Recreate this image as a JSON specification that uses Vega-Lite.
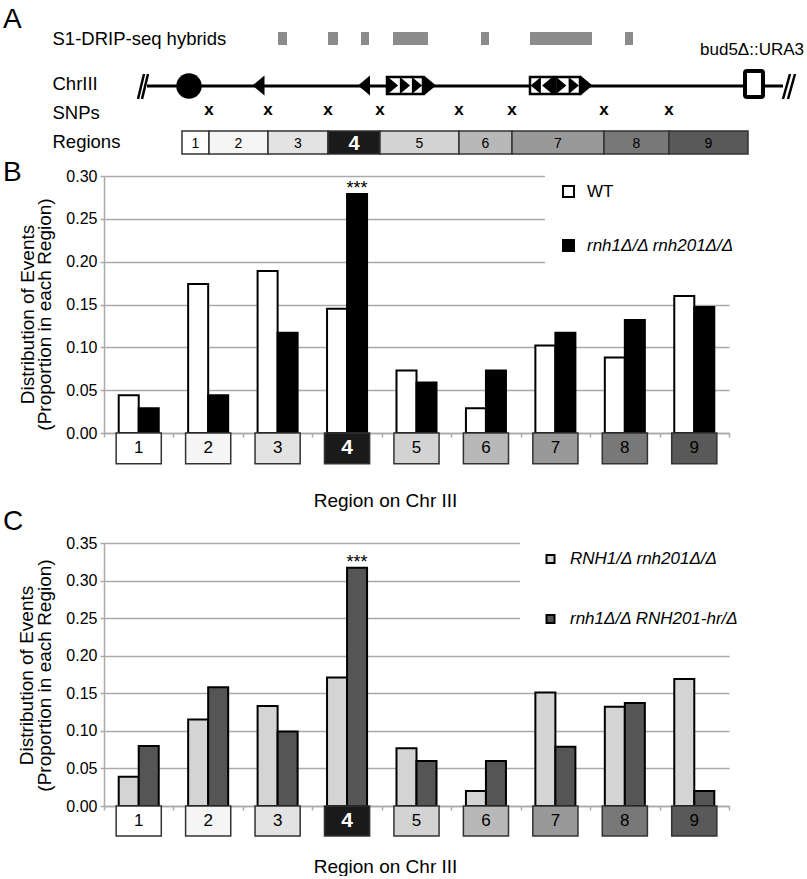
{
  "$schema": "https://vega.github.io/schema/vega-lite/v6.json",
  "background": "white",
  "padding": {"left": 3, "top": 6, "right": 0, "bottom": 0},
  "spacing": 4,
  "config": {
    "font": "Liberation Sans",
    "view": {"stroke": null},
    "title": {"font": "Liberation Sans", "fontWeight": "normal", "color": "black", "fontSize": 28},
    "axis": {"labelFont": "Liberation Sans", "titleFont": "Liberation Sans", "labelColor": "black", "titleColor": "black", "titleFontWeight": "normal"},
    "legend": {"labelFont": "Liberation Sans", "labelColor": "black"},
    "text": {"font": "Liberation Sans", "color": "black"}
  },
  "resolve": {"scale": {"color": "independent", "fill": "independent", "xOffset": "independent", "shape": "independent"}, "legend": {"color": "independent"}},
  "datasets": {
    "regions": [
      {"region": 1, "start": 15.6, "end": 21.0, "mid": 18.3},
      {"region": 2, "start": 21.0, "end": 32.8, "mid": 26.9},
      {"region": 3, "start": 32.8, "end": 44.8, "mid": 38.8},
      {"region": 4, "start": 44.8, "end": 55.2, "mid": 50.0},
      {"region": 5, "start": 55.2, "end": 71.0, "mid": 63.1},
      {"region": 6, "start": 71.0, "end": 81.6, "mid": 76.3},
      {"region": 7, "start": 81.6, "end": 100.0, "mid": 90.8},
      {"region": 8, "start": 100.0, "end": 113.0, "mid": 106.5},
      {"region": 9, "start": 113.0, "end": 128.8, "mid": 120.9}
    ],
    "snps": [{"pos": 21.0}, {"pos": 32.8}, {"pos": 44.8}, {"pos": 55.2}, {"pos": 71.0}, {"pos": 81.6}, {"pos": 100.0}, {"pos": 113.0}],
    "hybrids": [
      {"start": 34.8, "end": 36.6}, {"start": 44.8, "end": 46.8}, {"start": 51.4, "end": 53.0},
      {"start": 57.8, "end": 64.8}, {"start": 75.4, "end": 77.0}, {"start": 85.2, "end": 97.6},
      {"start": 104.2, "end": 105.8}
    ],
    "chromosome": [{"start": 8.6, "end": 135.8}],
    "breaks": [{"x1": 6.8, "x2": 8.0}, {"x1": 7.6, "x2": 8.8}, {"x1": 135.8, "x2": 137.2}, {"x1": 136.8, "x2": 138.2}],
    "centromere": [{"pos": 17.0}],
    "arrows": [{"pos": 30.9, "dir": "left"}, {"pos": 52.0, "dir": "left"}, {"pos": 65.2, "dir": "right"}, {"pos": 96.5, "dir": "right"}],
    "repeats": [{"start": 56.6, "end": 63.8}, {"start": 85.2, "end": 89.8}, {"start": 90.2, "end": 95.2}],
    "repeatArrows": [
      {"pos": 57.8, "dir": "right"}, {"pos": 60.2, "dir": "right"}, {"pos": 62.6, "dir": "right"},
      {"pos": 86.35, "dir": "left"}, {"pos": 88.65, "dir": "left"},
      {"pos": 91.45, "dir": "right"}, {"pos": 93.95, "dir": "right"}
    ],
    "marker": [{"start": 128.2, "end": 131.8}],
    "markerLabel": [{"pos": 129.6, "label": "bud5Δ::URA3"}],
    "b": [
      {"region": 1, "genotype": "WT", "value": 0.044},
      {"region": 1, "genotype": "rnh1Δ/Δ rnh201Δ/Δ", "value": 0.029},
      {"region": 2, "genotype": "WT", "value": 0.174},
      {"region": 2, "genotype": "rnh1Δ/Δ rnh201Δ/Δ", "value": 0.044},
      {"region": 3, "genotype": "WT", "value": 0.189},
      {"region": 3, "genotype": "rnh1Δ/Δ rnh201Δ/Δ", "value": 0.117},
      {"region": 4, "genotype": "WT", "value": 0.145},
      {"region": 4, "genotype": "rnh1Δ/Δ rnh201Δ/Δ", "value": 0.279, "sig": "***"},
      {"region": 5, "genotype": "WT", "value": 0.073},
      {"region": 5, "genotype": "rnh1Δ/Δ rnh201Δ/Δ", "value": 0.059},
      {"region": 6, "genotype": "WT", "value": 0.029},
      {"region": 6, "genotype": "rnh1Δ/Δ rnh201Δ/Δ", "value": 0.073},
      {"region": 7, "genotype": "WT", "value": 0.102},
      {"region": 7, "genotype": "rnh1Δ/Δ rnh201Δ/Δ", "value": 0.117},
      {"region": 8, "genotype": "WT", "value": 0.088},
      {"region": 8, "genotype": "rnh1Δ/Δ rnh201Δ/Δ", "value": 0.132},
      {"region": 9, "genotype": "WT", "value": 0.160},
      {"region": 9, "genotype": "rnh1Δ/Δ rnh201Δ/Δ", "value": 0.147}
    ],
    "c": [
      {"region": 1, "genotype": "RNH1/Δ rnh201Δ/Δ", "value": 0.039},
      {"region": 1, "genotype": "rnh1Δ/Δ RNH201-hr/Δ", "value": 0.080},
      {"region": 2, "genotype": "RNH1/Δ rnh201Δ/Δ", "value": 0.115},
      {"region": 2, "genotype": "rnh1Δ/Δ RNH201-hr/Δ", "value": 0.158},
      {"region": 3, "genotype": "RNH1/Δ rnh201Δ/Δ", "value": 0.133},
      {"region": 3, "genotype": "rnh1Δ/Δ RNH201-hr/Δ", "value": 0.099},
      {"region": 4, "genotype": "RNH1/Δ rnh201Δ/Δ", "value": 0.171},
      {"region": 4, "genotype": "rnh1Δ/Δ RNH201-hr/Δ", "value": 0.317, "sig": "***"},
      {"region": 5, "genotype": "RNH1/Δ rnh201Δ/Δ", "value": 0.077},
      {"region": 5, "genotype": "rnh1Δ/Δ RNH201-hr/Δ", "value": 0.060},
      {"region": 6, "genotype": "RNH1/Δ rnh201Δ/Δ", "value": 0.020},
      {"region": 6, "genotype": "rnh1Δ/Δ RNH201-hr/Δ", "value": 0.060},
      {"region": 7, "genotype": "RNH1/Δ rnh201Δ/Δ", "value": 0.151},
      {"region": 7, "genotype": "rnh1Δ/Δ RNH201-hr/Δ", "value": 0.079},
      {"region": 8, "genotype": "RNH1/Δ rnh201Δ/Δ", "value": 0.132},
      {"region": 8, "genotype": "rnh1Δ/Δ RNH201-hr/Δ", "value": 0.137},
      {"region": 9, "genotype": "RNH1/Δ rnh201Δ/Δ", "value": 0.169},
      {"region": 9, "genotype": "rnh1Δ/Δ RNH201-hr/Δ", "value": 0.020}
    ]
  },
  "vconcat": [
    {
      "width": 700,
      "height": 122,
      "title": {"text": "A", "anchor": "start", "frame": "group", "dx": -101, "offset": 0, "dy": 5},
      "layer": [
        {
          "data": {"name": "hybrids"},
          "mark": {"type": "rect", "color": "#8c8c8c"},
          "encoding": {
            "x": {"field": "start", "type": "quantitative", "scale": {"domain": [0, 140], "nice": false, "zero": false}, "axis": null},
            "x2": {"field": "end"},
            "y": {"datum": 0, "type": "quantitative", "scale": {"domain": [0, 12.2], "nice": false, "zero": false, "reverse": true},
              "axis": {"title": null, "values": [0.6, 5.1, 8.0, 10.9],
                "labelExpr": "datum.value < 1 ? 'S1-DRIP-seq hybrids' : datum.value < 6 ? 'ChrIII' : datum.value < 9 ? 'SNPs' : 'Regions'",
                "labelAlign": "left", "labelBaseline": "middle", "labelPadding": 52, "ticks": false, "tickSize": 0,
                "domain": false, "grid": false, "labelFontSize": 18.5, "labelLimit": 300, "labelOverlap": false, "labelBound": false}},
            "y2": {"datum": 1.3}
          }
        },
        {
          "data": {"name": "chromosome"},
          "mark": {"type": "rule", "color": "black", "strokeWidth": 3},
          "encoding": {
            "x": {"field": "start", "type": "quantitative", "axis": null},
            "x2": {"field": "end"},
            "y": {"datum": 5.4, "type": "quantitative"}
          }
        },
        {
          "data": {"name": "breaks"},
          "mark": {"type": "rule", "color": "black", "strokeWidth": 2.5},
          "encoding": {
            "x": {"field": "x1", "type": "quantitative", "axis": null},
            "x2": {"field": "x2"},
            "y": {"datum": 6.7, "type": "quantitative"},
            "y2": {"datum": 4.2}
          }
        },
        {
          "data": {"name": "centromere"},
          "mark": {"type": "point", "shape": "circle", "filled": true, "color": "black", "opacity": 1, "size": 650},
          "encoding": {
            "x": {"field": "pos", "type": "quantitative", "axis": null},
            "y": {"datum": 5.4, "type": "quantitative"}
          }
        },
        {
          "data": {"name": "repeats"},
          "mark": {"type": "rect", "fill": "white", "stroke": "black", "strokeWidth": 2.5},
          "encoding": {
            "x": {"field": "start", "type": "quantitative", "axis": null},
            "x2": {"field": "end"},
            "y": {"datum": 4.5, "type": "quantitative"},
            "y2": {"datum": 6.2}
          }
        },
        {
          "data": {"name": "repeatArrows"},
          "mark": {"type": "point", "filled": true, "color": "black", "opacity": 1, "size": 289},
          "encoding": {
            "x": {"field": "pos", "type": "quantitative", "axis": null},
            "y": {"datum": 5.35, "type": "quantitative"},
            "shape": {"field": "dir", "type": "nominal", "scale": {"domain": ["left", "right"], "range": ["M -0.6 0 L 0.6 -1 L 0.6 1 Z", "M 0.6 0 L -0.6 -1 L -0.6 1 Z"]}, "legend": null}
          }
        },
        {
          "data": {"name": "arrows"},
          "mark": {"type": "point", "filled": true, "color": "black", "opacity": 1, "size": 400},
          "encoding": {
            "x": {"field": "pos", "type": "quantitative", "axis": null},
            "y": {"datum": 5.35, "type": "quantitative"},
            "shape": {"field": "dir", "type": "nominal", "scale": {"domain": ["left", "right"], "range": ["M -0.6 0 L 0.6 -1 L 0.6 1 Z", "M 0.6 0 L -0.6 -1 L -0.6 1 Z"]}, "legend": null}
          }
        },
        {
          "data": {"name": "marker"},
          "mark": {"type": "rect", "fill": "white", "stroke": "black", "strokeWidth": 4, "cornerRadius": 2},
          "encoding": {
            "x": {"field": "start", "type": "quantitative", "axis": null},
            "x2": {"field": "end"},
            "y": {"datum": 3.9, "type": "quantitative"},
            "y2": {"datum": 6.5}
          }
        },
        {
          "data": {"name": "markerLabel"},
          "mark": {"type": "text", "fontSize": 17, "baseline": "alphabetic", "align": "center"},
          "encoding": {
            "x": {"field": "pos", "type": "quantitative", "axis": null},
            "y": {"datum": 2.3, "type": "quantitative"},
            "text": {"field": "label"}
          }
        },
        {
          "data": {"name": "snps"},
          "mark": {"type": "text", "text": "x", "fontSize": 17, "fontWeight": "bold", "baseline": "alphabetic", "align": "center"},
          "encoding": {
            "x": {"field": "pos", "type": "quantitative", "axis": null},
            "y": {"datum": 8.3, "type": "quantitative"}
          }
        },
        {
          "data": {"name": "regions"},
          "mark": {"type": "rect", "stroke": "#333333", "strokeWidth": 1.5},
          "encoding": {
            "x": {"field": "start", "type": "quantitative", "axis": null},
            "x2": {"field": "end"},
            "y": {"datum": 9.9, "type": "quantitative"},
            "y2": {"datum": 12.2},
            "fill": {"field": "region", "type": "ordinal", "scale": {"domain": [1, 2, 3, 4, 5, 6, 7, 8, 9], "range": ["#ffffff", "#f5f5f5", "#e3e3e3", "#1a1a1a", "#d3d3d3", "#b8b8b8", "#999999", "#787878", "#595959"]}, "legend": null}
          }
        },
        {
          "data": {"name": "regions"},
          "transform": [{"filter": "datum.region != 4"}],
          "mark": {"type": "text", "fontSize": 14, "baseline": "alphabetic", "align": "center"},
          "encoding": {
            "x": {"field": "mid", "type": "quantitative", "axis": null},
            "y": {"datum": 11.6, "type": "quantitative"},
            "text": {"field": "region", "type": "ordinal"}
          }
        },
        {
          "data": {"name": "regions"},
          "transform": [{"filter": "datum.region == 4"}],
          "mark": {"type": "text", "fontSize": 20, "fontWeight": "bold", "color": "white", "baseline": "alphabetic", "align": "center"},
          "encoding": {
            "x": {"field": "mid", "type": "quantitative", "axis": null},
            "y": {"datum": 11.8, "type": "quantitative"},
            "text": {"field": "region", "type": "ordinal"}
          }
        }
      ]
    },
    {
      "spacing": -3,
      "resolve": {"scale": {"color": "independent", "fill": "independent", "xOffset": "independent"}, "legend": {"color": "independent"}},
      "vconcat": [
        {
          "width": 625,
          "height": 257,
          "title": {"text": "B", "anchor": "start", "frame": "group", "dx": -101, "offset": 0, "dy": 19},
          "layer": [
            {
              "data": {"name": "b"},
              "mark": {"type": "bar", "stroke": "black", "strokeWidth": 2},
              "encoding": {
                "x": {"field": "region", "type": "ordinal", "scale": {"paddingInner": 0, "paddingOuter": 0},
                  "axis": {"title": "Region on Chr III", "labels": false, "ticks": true, "tickBand": "extent", "tickSize": 4, "tickColor": "#aaaaaa", "tickWidth": 1.5,
                    "domainColor": "#aaaaaa", "domainWidth": 1.5, "grid": false, "titleFontSize": 19, "titleX": 281, "titleY": 73,
                    "titleBaseline": "alphabetic", "titleAlign": "center"}},
                "xOffset": {"field": "genotype", "type": "nominal", "scale": {"domain": ["WT", "rnh1Δ/Δ rnh201Δ/Δ"], "paddingOuter": 0.735, "paddingInner": 0}},
                "y": {"field": "value", "type": "quantitative", "scale": {"domain": [0, 0.3], "nice": false},
                  "axis": {"values": [0, 0.05, 0.1, 0.15, 0.2, 0.25, 0.3], "tickCount": 7, "format": ".2f", "grid": true, "gridColor": "#aaaaaa", "gridWidth": 1.5,
                    "domainColor": "#aaaaaa", "domainWidth": 1.5, "tickColor": "#aaaaaa", "tickWidth": 1.5, "tickSize": 4,
                    "labelFontSize": 16, "labelPadding": 3, "labelOverlap": false,
                    "title": ["Distribution of Events", "(Proportion in each Region)"], "titleFontSize": 19, "titleLineHeight": 17,
                    "titleAngle": -90, "titleAlign": "center", "titleBaseline": "alphabetic", "titleX": -71, "titleY": 138}},
                "color": {"field": "genotype", "type": "nominal", "scale": {"domain": ["WT", "rnh1Δ/Δ rnh201Δ/Δ"], "range": ["white", "black"]},
                  "legend": {"orient": "none", "legendX": 441, "legendY": -8, "title": null, "fillColor": "white", "padding": 15,
                    "symbolType": "square", "symbolSize": 121, "symbolStrokeColor": "black", "symbolStrokeWidth": 2,
                    "labelFontSize": 17, "labelOffset": 10, "rowPadding": 35, "labelLimit": 400,
                    "encode": {"labels": {"update": {"fontStyle": {"signal": "datum.label === 'WT' ? 'normal' : 'italic'"}}}}}}
              }
            },
            {
              "data": {"name": "regions"},
              "mark": {"type": "bar", "width": {"band": 0.65}, "stroke": "#333333", "strokeWidth": 1.5},
              "encoding": {
                "x": {"field": "region", "type": "ordinal"},
                "y": {"datum": 0, "type": "quantitative", "scale": {"domain": [0, 0.3], "nice": false}},
                "y2": {"datum": -0.036},
                "fill": {"field": "region", "type": "ordinal", "scale": {"domain": [1, 2, 3, 4, 5, 6, 7, 8, 9], "range": ["#ffffff", "#f5f5f5", "#e3e3e3", "#1a1a1a", "#d3d3d3", "#b8b8b8", "#999999", "#787878", "#595959"]}, "legend": null}
              }
            },
            {
              "data": {"name": "regions"},
              "transform": [{"filter": "datum.region != 4"}],
              "mark": {"type": "text", "fontSize": 17, "baseline": "middle"},
              "encoding": {
                "x": {"field": "region", "type": "ordinal"},
                "y": {"datum": -0.018, "type": "quantitative"},
                "text": {"field": "region", "type": "ordinal"}
              }
            },
            {
              "data": {"name": "regions"},
              "transform": [{"filter": "datum.region == 4"}],
              "mark": {"type": "text", "fontSize": 21, "fontWeight": "bold", "color": "white", "baseline": "middle"},
              "encoding": {
                "x": {"field": "region", "type": "ordinal"},
                "y": {"datum": -0.018, "type": "quantitative"},
                "text": {"field": "region", "type": "ordinal"}
              }
            },
            {
              "data": {"name": "b"},
              "transform": [{"filter": "datum.sig"}],
              "mark": {"type": "text", "fontSize": 18, "baseline": "alphabetic"},
              "encoding": {
                "x": {"field": "region", "type": "ordinal"},
                "xOffset": {"field": "genotype", "type": "nominal", "scale": {"domain": ["WT", "rnh1Δ/Δ rnh201Δ/Δ"]}},
                "y": {"field": "value", "type": "quantitative"},
                "text": {"field": "sig"}
              }
            }
          ]
        },
        {
          "width": 625,
          "height": 263,
          "title": {"text": "C", "anchor": "start", "frame": "group", "dx": -101, "offset": 0, "dy": 7},
          "layer": [
            {
              "data": {"name": "c"},
              "mark": {"type": "bar", "stroke": "black", "strokeWidth": 2},
              "encoding": {
                "x": {"field": "region", "type": "ordinal", "scale": {"paddingInner": 0, "paddingOuter": 0},
                  "axis": {"title": "Region on Chr III", "labels": false, "ticks": true, "tickBand": "extent", "tickSize": 4, "tickColor": "#aaaaaa", "tickWidth": 1.5,
                    "domainColor": "#aaaaaa", "domainWidth": 1.5, "grid": false, "titleFontSize": 19, "titleX": 281, "titleY": 66,
                    "titleBaseline": "alphabetic", "titleAlign": "center"}},
                "xOffset": {"field": "genotype", "type": "nominal", "scale": {"domain": ["RNH1/Δ rnh201Δ/Δ", "rnh1Δ/Δ RNH201-hr/Δ"], "paddingOuter": 0.735, "paddingInner": 0}},
                "y": {"field": "value", "type": "quantitative", "scale": {"domain": [0, 0.35], "nice": false},
                  "axis": {"values": [0, 0.05, 0.1, 0.15, 0.2, 0.25, 0.3, 0.35], "tickCount": 8, "format": ".2f", "grid": true, "gridColor": "#aaaaaa", "gridWidth": 1.5,
                    "domainColor": "#aaaaaa", "domainWidth": 1.5, "tickColor": "#aaaaaa", "tickWidth": 1.5, "tickSize": 4,
                    "labelFontSize": 16, "labelPadding": 3, "labelOverlap": false,
                    "title": ["Distribution of Events", "(Proportion in each Region)"], "titleFontSize": 19, "titleLineHeight": 18,
                    "titleAngle": -90, "titleAlign": "center", "titleBaseline": "alphabetic", "titleX": -72, "titleY": 132}},
                "color": {"field": "genotype", "type": "nominal", "scale": {"domain": ["RNH1/Δ rnh201Δ/Δ", "rnh1Δ/Δ RNH201-hr/Δ"], "range": ["#d4d4d4", "#555555"]},
                  "legend": {"orient": "none", "legendX": 416, "legendY": -14.5, "title": null, "fillColor": "white", "padding": 22,
                    "symbolType": "square", "symbolSize": 64, "symbolStrokeColor": "black", "symbolStrokeWidth": 2,
                    "labelFontSize": 17, "labelFontStyle": "italic", "labelOffset": 11, "rowPadding": 42, "labelLimit": 400}}
              }
            },
            {
              "data": {"name": "regions"},
              "mark": {"type": "bar", "width": {"band": 0.65}, "stroke": "#333333", "strokeWidth": 1.5},
              "encoding": {
                "x": {"field": "region", "type": "ordinal"},
                "y": {"datum": 0, "type": "quantitative", "scale": {"domain": [0, 0.35], "nice": false}},
                "y2": {"datum": -0.04},
                "fill": {"field": "region", "type": "ordinal", "scale": {"domain": [1, 2, 3, 4, 5, 6, 7, 8, 9], "range": ["#ffffff", "#f5f5f5", "#e3e3e3", "#1a1a1a", "#d3d3d3", "#b8b8b8", "#999999", "#787878", "#595959"]}, "legend": null}
              }
            },
            {
              "data": {"name": "regions"},
              "transform": [{"filter": "datum.region != 4"}],
              "mark": {"type": "text", "fontSize": 17, "baseline": "middle"},
              "encoding": {
                "x": {"field": "region", "type": "ordinal"},
                "y": {"datum": -0.02, "type": "quantitative"},
                "text": {"field": "region", "type": "ordinal"}
              }
            },
            {
              "data": {"name": "regions"},
              "transform": [{"filter": "datum.region == 4"}],
              "mark": {"type": "text", "fontSize": 21, "fontWeight": "bold", "color": "white", "baseline": "middle"},
              "encoding": {
                "x": {"field": "region", "type": "ordinal"},
                "y": {"datum": -0.02, "type": "quantitative"},
                "text": {"field": "region", "type": "ordinal"}
              }
            },
            {
              "data": {"name": "c"},
              "transform": [{"filter": "datum.sig"}],
              "mark": {"type": "text", "fontSize": 18, "baseline": "alphabetic"},
              "encoding": {
                "x": {"field": "region", "type": "ordinal"},
                "xOffset": {"field": "genotype", "type": "nominal", "scale": {"domain": ["RNH1/Δ rnh201Δ/Δ", "rnh1Δ/Δ RNH201-hr/Δ"]}},
                "y": {"field": "value", "type": "quantitative"},
                "text": {"field": "sig"}
              }
            }
          ]
        }
      ]
    }
  ]
}
